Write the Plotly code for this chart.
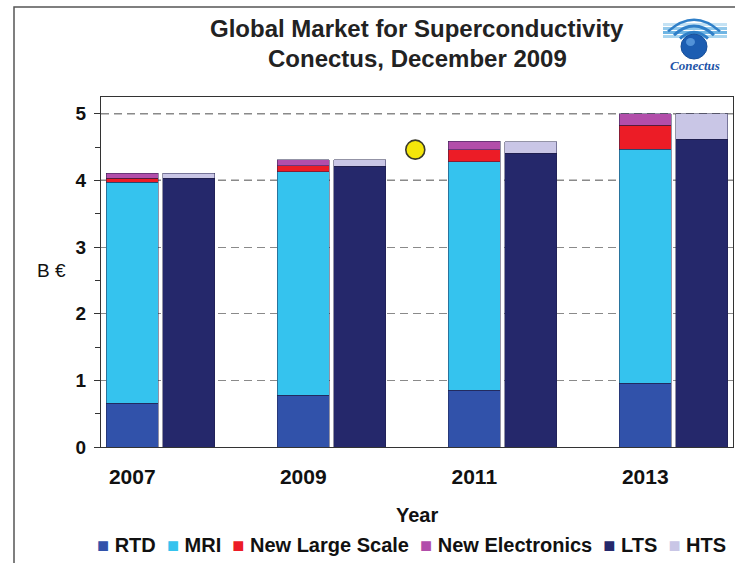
import plotly.graph_objects as go

# ---------------- data ----------------
years = ["2007", "2009", "2011", "2013"]
# application split (left bar of each pair)
rtd = [0.66, 0.78, 0.85, 0.96]
mri = [3.31, 3.35, 3.43, 3.51]
new_large_scale = [0.06, 0.09, 0.18, 0.36]
new_electronics = [0.08, 0.09, 0.13, 0.17]
# material split (right bar of each pair)
lts = [4.03, 4.21, 4.41, 4.62]
hts = [0.08, 0.10, 0.17, 0.38]
# yellow dot drawn on the chart (group units, B€)
dot_x = [1.49]
dot_y = [4.46]
dark_grid_levels = [4, 5]

# ---------------- style ----------------
FONT = "Liberation Sans, Arial, sans-serif"
colors = {
    "RTD": "#3152AA",
    "MRI": "#35C3EE",
    "New Large Scale": "#EC1C26",
    "New Electronics": "#B24EAA",
    "LTS": "#25286B",
    "HTS": "#C9C6E6",
}
W, H = 735, 563
ML, MR, MT, MB = 101, 2, 97, 116
PW, PH = W - ML - MR, H - MT - MB


def px(xp):
    return (xp - ML) / PW


def py(yp):
    return (H - MB - yp) / PH


offset = 0.165
bw = 0.305
idx = list(range(len(years)))
left_x = [i - offset for i in idx]
right_x = [i + offset for i in idx]

fig = go.Figure()
line = dict(color="rgba(30,30,70,0.8)", width=0.6)
for name, vals in [("RTD", rtd), ("MRI", mri), ("New Large Scale", new_large_scale),
                   ("New Electronics", new_electronics)]:
    fig.add_trace(go.Bar(x=left_x, y=vals, name=name, width=bw,
                         marker=dict(color=colors[name], line=line), showlegend=False))
for name, vals in [("LTS", lts), ("HTS", hts)]:
    fig.add_trace(go.Bar(x=right_x, y=vals, name=name, width=bw,
                         marker=dict(color=colors[name], line=line), showlegend=False))

fig.add_trace(go.Scatter(x=dot_x, y=dot_y, mode="markers", showlegend=False,
                         marker=dict(size=19, color="#F4E60A",
                                     line=dict(color="#3a3a2a", width=1.6))))

shapes = []
for lv in dark_grid_levels:
    shapes.append(dict(type="line", xref="paper", yref="y", x0=0, x1=1, y0=lv, y1=lv,
                       line=dict(color="#111", width=1.4, dash="8px,5px"), layer="between"))
# outer frame
shapes.append(dict(type="rect", xref="paper", yref="paper", x0=px(14), x1=px(760),
                   y0=py(600), y1=py(7), line=dict(color="#555", width=1.5)))
# logo: striped band
for k, (y0, y1, c) in enumerate([(23, 26, "#C4E2F4"), (27, 30, "#93C9EB"),
                                  (31, 34, "#6FB5E3"), (35, 38, "#A8D5EF")]):
    shapes.append(dict(type="rect", xref="paper", yref="paper", x0=px(663), x1=px(727),
                       y0=py(y1), y1=py(y0), fillcolor=c, line=dict(width=0)))
# logo: arcs
cx, cy = 694, 47
for r, wdt in [(14, 3), (20, 3), (26, 2.5)]:
    path = "M {:.4f} {:.4f} Q {:.4f} {:.4f} {:.4f} {:.4f}".format(
        px(cx - r), py(cy - r * 0.6), px(cx), py(cy - r * 1.5), px(cx + r), py(cy - r * 0.6))
    shapes.append(dict(type="path", xref="paper", yref="paper", path=path,
                       line=dict(color="#2F7FC8", width=wdt)))
# logo: sphere
shapes.append(dict(type="circle", xref="paper", yref="paper", x0=px(cx - 13), x1=px(cx + 13),
                   y0=py(cy + 12), y1=py(cy - 13), fillcolor="#1C5DB2",
                   line=dict(color="#174E98", width=1)))
shapes.append(dict(type="circle", xref="paper", yref="paper", x0=px(cx - 8), x1=px(cx + 1),
                   y0=py(cy - 1), y1=py(cy - 9), fillcolor="#5292D8", line=dict(width=0)))

legend_items = ["RTD", "MRI", "New Large Scale", "New Electronics", "LTS", "HTS"]
sp = "\u00a0"
legend_text = (sp * 2).join(
    "<span style='color:{}'>\u25a0</span>{}{}".format(colors[n], sp, n) for n in legend_items)

annotations = [
    dict(text="Global Market for Superconductivity", x=0.5, y=py(29), xref="paper", yref="paper",
         showarrow=False, font=dict(family=FONT, size=24, color="#222", weight="bold"),
         xanchor="center", yanchor="middle"),
    dict(text="Conectus, December 2009", x=0.5, y=py(58), xref="paper", yref="paper",
         showarrow=False, font=dict(family=FONT, size=24, color="#222", weight="bold"),
         xanchor="center", yanchor="middle"),
    dict(text="Conectus", x=px(695), y=py(65), xref="paper", yref="paper", showarrow=False,
         font=dict(family="Liberation Serif, serif", size=13, color="#1F55A8", style="italic",
                   weight="bold"),
         xanchor="center", yanchor="middle"),
    dict(text="Year", x=0.5, y=py(515), xref="paper", yref="paper", showarrow=False,
         font=dict(family=FONT, size=20, color="#111", weight="bold"),
         xanchor="center", yanchor="middle"),
    dict(text="B €", x=px(51), y=py(270), xref="paper", yref="paper", showarrow=False,
         font=dict(family=FONT, size=19, color="#111"), xanchor="center", yanchor="middle"),
    dict(text=legend_text, x=px(411), y=py(545), xref="paper", yref="paper", showarrow=False,
         font=dict(family=FONT, size=20, color="#111", weight="bold"),
         xanchor="center", yanchor="middle"),
]

fig.update_layout(
    width=W, height=H,
    margin=dict(l=ML, r=MR, t=MT, b=MB, pad=0),
    barmode="stack",
    paper_bgcolor="white", plot_bgcolor="white",
    showlegend=False,
    shapes=shapes,
    annotations=annotations,
    font=dict(family=FONT, color="#111"),
    xaxis=dict(range=[-0.348, 3.348], tickvals=left_x, ticktext=years,
               tickfont=dict(family=FONT, size=21, color="#111", weight="bold"),
               ticks="", showgrid=False, zeroline=False, showline=True, linecolor="#333",
               linewidth=1.2, mirror=True, ticklabelstandoff=11),
    yaxis=dict(range=[0, 5.25], dtick=1, tick0=0,
               tickfont=dict(family=FONT, size=19, color="#111", weight="bold"),
               ticks="outside", ticklen=6, tickcolor="#333", tickwidth=1.2,
               minor=dict(dtick=0.5, ticks="outside", ticklen=5, tickcolor="#333", showgrid=False),
               showgrid=True, gridcolor="#8a8a8a", griddash="8px,5px", gridwidth=1,
               zeroline=False, showline=True, linecolor="#333", linewidth=1.2, mirror=True,
               ticklabelstandoff=4),
)

fig.write_html("out.html")
